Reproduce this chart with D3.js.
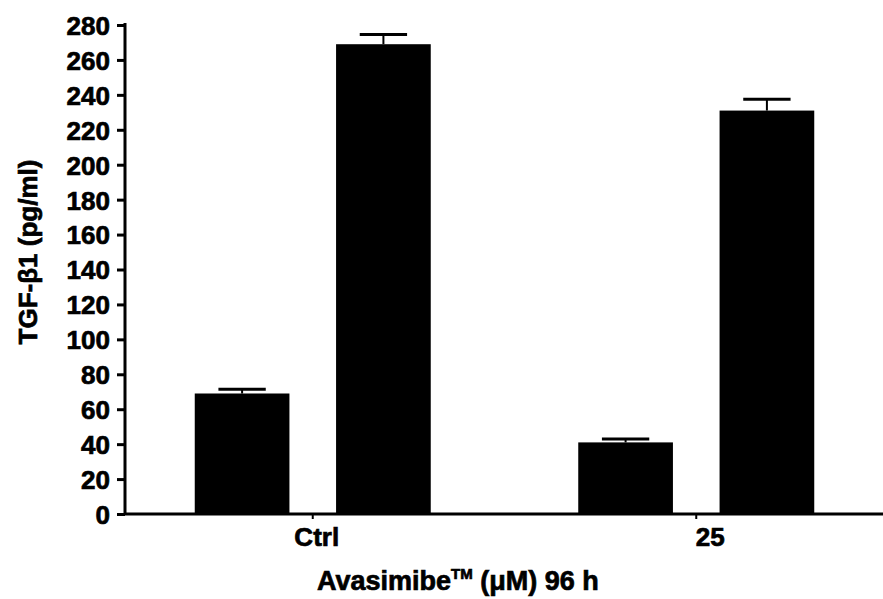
<!DOCTYPE html>
<html>
<head>
<meta charset="utf-8">
<script src="https://cdn.jsdelivr.net/npm/d3@7"></script>
<style>
  body { margin: 0; background: #fff; }
  text { font-family: "Liberation Sans", Arial, sans-serif; font-weight: bold; fill: #000; stroke: #000; stroke-width: 0.7px; }
</style>
</head>
<body>
<div id="chart"></div>
<script>
// data
const groups = ["Ctrl", "25"];
const series = ["a", "b"];
const means = [[69, 269], [41, 231]];
const errors = [[2.5, 5.5], [2, 6.5]];
const yTicks = [0, 20, 40, 60, 80, 100, 120, 140, 160, 180, 200, 220, 240, 260, 280];

function drawChart() {
    const width = 883, height = 599;
    const svg = d3.select("#chart")
        .append("svg")
        .attr("width", width)
        .attr("height", height);

    const yScale = d3.scaleLinear()
        .domain([0, 280])
        .range([514, 25]);
    const xScale = d3.scaleBand()
        .domain(groups)
        .range([121, 888]);
    const inner = d3.scaleBand()
        .domain(series)
        .range([-118, 118])
        .paddingInner(0.33);

    // y axis
    const yAxisCall = d3.axisLeft(yScale)
        .tickValues(yTicks)
        .tickSize(8)
        .tickSizeOuter(0)
        .tickPadding(7);
    const yAxis = svg.append("g")
        .attr("class", "y axis")
        .attr("transform", "translate(125,0)")
        .call(yAxisCall);
    yAxis.select(".domain").attr("stroke-width", 3).attr("d", "M0,23V515");
    yAxis.selectAll(".tick line").attr("stroke-width", 3);
    yAxis.selectAll(".tick text")
        .attr("font-size", 26)
        .attr("dy", "0.36em");

    // bars
    const rows = groups.flatMap((g, gi) => series.map((s, si) => ({
        group: g, key: s, value: means[gi][si], err: errors[gi][si]
    })));
    const bar = svg.selectAll(".bar")
        .data(rows)
        .enter()
        .append("g")
        .attr("class", "bar")
        .attr("transform", (d) => "translate(" + (xScale(d.group) + xScale.bandwidth() / 2) + ",0)");
    bar.append("rect")
        .attr("x", (d) => inner(d.key))
        .attr("y", (d) => yScale(d.value))
        .attr("width", inner.bandwidth())
        .attr("height", (d) => yScale(0) - yScale(d.value))
        .attr("fill", "#000");
    bar.append("line")
        .attr("x1", (d) => inner(d.key) + inner.bandwidth() / 2)
        .attr("x2", (d) => inner(d.key) + inner.bandwidth() / 2)
        .attr("y1", (d) => yScale(d.value))
        .attr("y2", (d) => yScale(d.value + d.err))
        .attr("stroke", "#000")
        .attr("stroke-width", 2);
    bar.append("line")
        .attr("x1", (d) => inner(d.key) + inner.bandwidth() / 4)
        .attr("x2", (d) => inner(d.key) + inner.bandwidth() * 3 / 4)
        .attr("y1", (d) => yScale(d.value + d.err))
        .attr("y2", (d) => yScale(d.value + d.err))
        .attr("stroke", "#000")
        .attr("stroke-width", 3);

    // x axis
    const xAxisCall = d3.axisBottom(xScale)
        .tickSize(5)
        .tickSizeOuter(0)
        .tickPadding(9);
    const xAxis = svg.append("g")
        .attr("class", "x axis")
        .attr("transform", "translate(0,514)")
        .call(xAxisCall);
    xAxis.select(".domain").attr("stroke-width", 3).attr("d", "M124,0H883");
    xAxis.selectAll(".tick line").attr("stroke-width", 2);
    xAxis.selectAll(".tick text")
        .attr("font-size", 26)
        .attr("dx", (d, i) => i === 0 ? 4 : 14);

    // axis titles
    svg.append("text")
        .attr("transform", "translate(37,252) rotate(-90)")
        .attr("text-anchor", "middle")
        .attr("font-size", 26)
        .text("TGF-β1 (pg/ml)");

    const xt = svg.append("text")
        .attr("x", 317)
        .attr("y", 590)
        .attr("font-size", 27);
    xt.append("tspan").text("Avasimibe");
    xt.append("tspan").attr("font-size", 15).attr("dy", -11).text("TM");
    xt.append("tspan").attr("dy", 11).text(" (μM) 96 h");
}

drawChart();
</script>
</body>
</html>
